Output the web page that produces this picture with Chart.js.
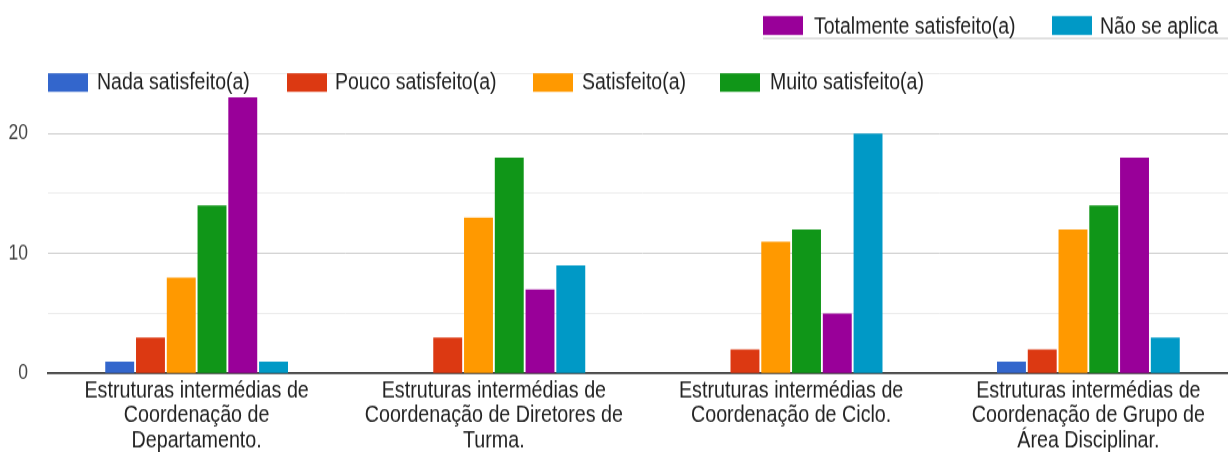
<!DOCTYPE html>
<html>
<head>
<meta charset="utf-8">
<script src="https://cdn.jsdelivr.net/npm/chart.js@4/dist/chart.umd.min.js"></script>
<style>
  html, body { margin: 0; padding: 0; background: #fff; overflow: hidden; }
  #wrap { width: 1228px; height: 452px; overflow: hidden; position: relative; }
  /* chart is drawn at 390px tall and stretched to the full 452px */
  #stretch { transform: scaleY(1.15897); transform-origin: 0 0; width: 1240px; height: 390px; }
</style>
</head>
<body>
<div id="wrap"><div id="stretch"><canvas id="myChart" width="1240" height="390"></canvas></div></div>
<script>
var FONT = '"Liberation Sans", Arial, sans-serif';

var categories = [
    ['Estruturas intermédias de', 'Coordenação de', 'Departamento.'],
    ['Estruturas intermédias de', 'Coordenação de Diretores de', 'Turma.'],
    ['Estruturas intermédias de', 'Coordenação de Ciclo.'],
    ['Estruturas intermédias de', 'Coordenação de Grupo de', 'Área Disciplinar.']
];
var seriesNames = ['Nada satisfeito(a)', 'Pouco satisfeito(a)', 'Satisfeito(a)',
    'Muito satisfeito(a)', 'Totalmente satisfeito(a)', 'Não se aplica'];
var nada = [1, 0, 0, 1];
var pouco = [3, 3, 2, 2];
var satisfeito = [8, 13, 11, 12];
var muito = [14, 18, 12, 14];
var totalmente = [23, 7, 5, 18];
var naoSeAplica = [1, 9, 20, 3];
var yTicks = [0, 10, 20];

var colors = ['#3366cc', '#dc3912', '#ff9900', '#109618', '#990099', '#0099c6'];
var values = [nada, pouco, satisfeito, muito, totalmente, naoSeAplica];

// legend in two rows: boxes and text placed by hand
var legendItems = [
    { box: 48, text: 97, w: 158, row: 1 },
    { box: 287, text: 335, w: 165, row: 1 },
    { box: 533, text: 582, w: 105, row: 1 },
    { box: 720, text: 770, w: 157, row: 1 },
    { box: 763, text: 814, w: 205, row: 0 },
    { box: 1052, text: 1100, w: 120, row: 0 }
];
var legendRows = [
    { top: 13.8, h: 16.4, base: 28.7 },
    { top: 63.2, h: 16.0, base: 77.0 }
];

var twoRowLegend = {
    id: 'twoRowLegend',
    afterDraw: function (chart) {
        var ctx = chart.ctx;
        ctx.save();
        // thin rule under the first row
        ctx.strokeStyle = '#cfcfcf';
        ctx.lineWidth = 1.3;
        ctx.beginPath();
        ctx.moveTo(763, 33.2);
        ctx.lineTo(1240, 33.2);
        ctx.stroke();

        ctx.font = '19.5px ' + FONT;
        ctx.textBaseline = 'alphabetic';
        ctx.textAlign = 'left';
        chart.data.datasets.forEach(function (ds, i) {
            var it = legendItems[i];
            var r = legendRows[it.row];
            ctx.fillStyle = ds.backgroundColor;
            ctx.fillRect(it.box, r.top, 40, r.h);
            ctx.fillStyle = '#222';
            ctx.fillText(ds.label, it.text, r.base, it.w);
        });
        ctx.restore();
    }
};

var datasets = seriesNames.map(function (name, i) {
    return {
        label: name,
        data: values[i],
        backgroundColor: colors[i],
        borderWidth: 0,
        categoryPercentage: 0.621,
        barPercentage: 0.94
    };
});

var myChart = new Chart('myChart', {
    type: 'bar',
    data: { labels: categories, datasets: datasets },
    plugins: [twoRowLegend],
    options: {
        responsive: false,
        animation: false,
        layout: { padding: { top: 63.4, right: 3, left: 0, bottom: 0 } },
        plugins: {
            legend: { display: false },
            tooltip: { enabled: false }
        },
        scales: {
            x: {
                grid: { display: false, drawTicks: false },
                border: { display: true, color: '#333', width: 1.7 },
                ticks: {
                    color: '#222',
                    padding: 4.6,
                    maxRotation: 0,
                    autoSkip: false,
                    font: { family: FONT, size: 19.7, lineHeight: 1.083 }
                },
                afterFit: function (axis) { axis.height = 67.7; }
            },
            y: {
                min: 0,
                max: 25,
                grid: {
                    drawTicks: false,
                    lineWidth: 1,
                    color: function (c) {
                        var v = c.tick.value;
                        if (v === 0) return 'rgba(0,0,0,0)';
                        return v % 10 === 0 ? '#cccccc' : '#ebebeb';
                    }
                },
                border: { display: false },
                ticks: {
                    stepSize: 5,
                    autoSkip: false,
                    padding: 20,
                    color: '#444',
                    font: { family: FONT, size: 17.5 },
                    callback: function (v) { return yTicks.indexOf(v) >= 0 ? v : ''; }
                },
                afterFit: function (axis) { axis.width = 48; }
            }
        }
    }
});
</script>
</body>
</html>
